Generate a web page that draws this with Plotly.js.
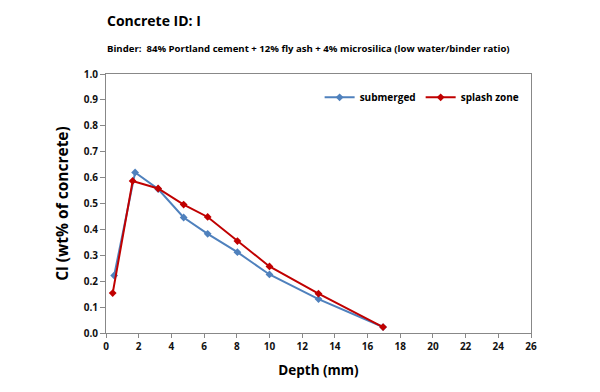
<!DOCTYPE html>
<html>
<head>
<meta charset="utf-8">
<script src="https://cdn.plot.ly/plotly-3.0.1.min.js"></script>
<style>html,body{margin:0;padding:0;background:#fff;}#chart{width:600px;height:392px;}</style>
</head>
<body>
<div id="chart"></div>
<script>
var submergedDepth = [0.5, 1.78, 3.19, 4.75, 6.22, 8.04, 10.0, 13.0, 16.95];
var submergedCl    = [0.222, 0.62, 0.556, 0.446, 0.383, 0.312, 0.226, 0.131, 0.023];
var splashDepth    = [0.41, 1.63, 3.19, 4.75, 6.22, 8.04, 10.0, 13.0, 16.95];
var splashCl       = [0.154, 0.587, 0.558, 0.496, 0.448, 0.355, 0.257, 0.152, 0.023];
var seriesNames    = ["submerged", "splash zone"];
var xTickVals      = [0, 2, 4, 6, 8, 10, 12, 14, 16, 18, 20, 22, 24, 26];
var yTickVals      = [0, 0.1, 0.2, 0.3, 0.4, 0.5, 0.6, 0.7, 0.8, 0.9, 1.0];
var titleText      = "Concrete ID: I";
var subtitleText   = "Binder:  84% Portland cement + 12% fly ash + 4% microsilica (low water/binder ratio)";
var xTitle         = "Depth (mm)";
var yTitle         = "Cl (wt% of concrete)";

var fontFam = "Open Sans, Liberation Sans, sans-serif";
var traces = [
  {x: submergedDepth, y: submergedCl, name: seriesNames[0], mode: "lines+markers",
   line: {color: "#4F81BD", width: 2}, marker: {symbol: "diamond", size: 6, color: "#4F81BD"}},
  {x: splashDepth, y: splashCl, name: seriesNames[1], mode: "lines+markers",
   line: {color: "#C00000", width: 2}, marker: {symbol: "diamond", size: 6, color: "#C00000"}}
];
var layout = {
  width: 600, height: 392,
  margin: {l: 106, r: 69, t: 74, b: 59},
  paper_bgcolor: "#fff", plot_bgcolor: "#fff",
  showlegend: true,
  legend: {orientation: "h", x: 0.985, xanchor: "right", y: 0.91, yanchor: "middle",
           font: {family: fontFam, size: 10, color: "#000", weight: "bold"}, bgcolor: "rgba(0,0,0,0)", itemwidth: 30},
  xaxis: {range: [0, 26], tickvals: xTickVals, ticks: "outside", ticklen: 4, tickcolor: "#888",
          showline: true, linecolor: "#888", linewidth: 1, mirror: true, showgrid: false, zeroline: false,
          tickfont: {family: fontFam, size: 10, color: "#111", weight: "bold"},
          title: {text: xTitle, font: {family: fontFam, size: 13.5, color: "#000", weight: "bold"}, standoff: 13}},
  yaxis: {range: [0, 1.0], tickvals: yTickVals, tickformat: ".1f", ticks: "outside", ticklen: 5, tickcolor: "#888",
          showline: true, linecolor: "#888", linewidth: 1, mirror: true, showgrid: false, zeroline: false,
          tickfont: {family: fontFam, size: 10, color: "#111", weight: "bold"},
          title: {text: yTitle, font: {family: fontFam, size: 15.5, color: "#000", weight: "bold"}, standoff: 11}},
  annotations: [
    {text: titleText, xref: "paper", yref: "paper", x: -0.003, y: 1.205, xanchor: "left", yanchor: "middle",
     showarrow: false, font: {family: fontFam, size: 14, color: "#000", weight: "bold"}},
    {text: subtitleText, xref: "paper", yref: "paper", x: -0.003, y: 1.1, xanchor: "left", yanchor: "middle",
     showarrow: false, font: {family: fontFam, size: 9.6, color: "#000", weight: "bold"}}
  ]
};
Plotly.newPlot("chart", traces, layout, {displayModeBar: false, staticPlot: true});
</script>
</body>
</html>
